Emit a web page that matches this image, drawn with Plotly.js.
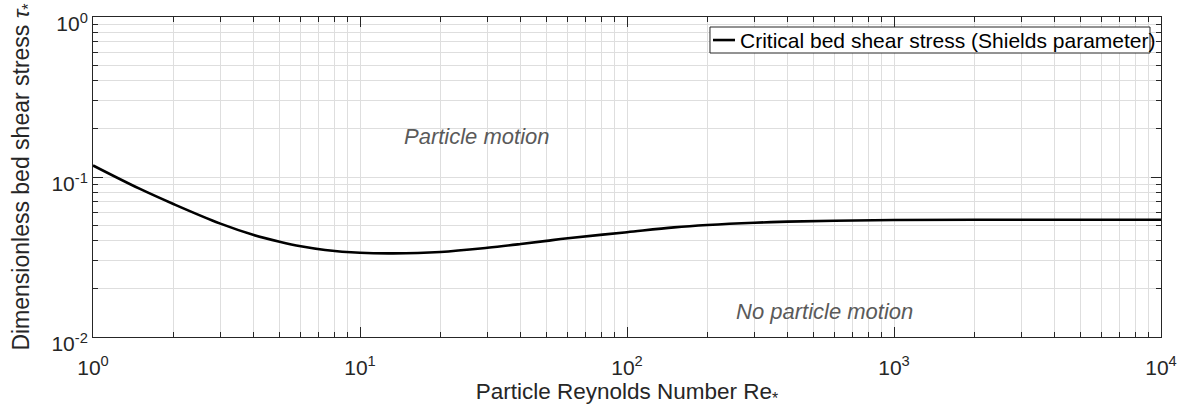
<!DOCTYPE html>
<html>
<head>
<meta charset="utf-8">
<script src="https://cdn.plot.ly/plotly-3.0.1.min.js"></script>
<style>html,body{margin:0;padding:0;background:#fff;}#chart{width:1195px;height:410px;}</style>
</head>
<body>
<div id="chart"></div>
<script>
// Data
var reynolds = [1, 1.5, 2, 3, 4, 5, 6, 7.4, 10, 13.3, 20, 30, 40, 50, 60, 100, 150, 200, 300, 400, 600, 1000, 2000, 5000, 10000];
var shields  = [0.1181, 0.0842, 0.0678, 0.0511, 0.0434, 0.0394, 0.0369, 0.0350, 0.0336, 0.0333, 0.0340, 0.0361, 0.0381, 0.0399, 0.0414, 0.0452, 0.0484, 0.0501, 0.0518, 0.0526, 0.0533, 0.0538, 0.0540, 0.0541, 0.0541];
var seriesName = 'Critical bed shear stress (Shields parameter)';

var xTickVals = [1, 10, 100, 1000, 10000];
var xTickText = ['10<sup>0</sup>', '10<sup>1</sup>', '10<sup>2</sup>', '10<sup>3</sup>', '10<sup>4</sup>'];
var yTickVals = [0.01, 0.1, 1];
var yTickText = ['10<sup>-2</sup>', '10<sup>-1</sup>', '10<sup>0</sup>'];

var regionLabels = ['Particle motion', 'No particle motion'];
var regionX = [27.4, 550];
var regionY = [0.179, 0.0144];

var font = 'Liberation Sans, Arial, Helvetica, sans-serif';
var axisColor = '#262626';
var gridColor = '#dedede';

var trace = {
  x: reynolds, y: shields, type: 'scatter', mode: 'lines',
  name: seriesName, showlegend: false,
  line: {color: '#000000', width: 2.6, shape: 'spline', smoothing: 1}
};

function axisBase(vals, text, range) {
  return {
    type: 'log', range: range, tickmode: 'array', tickvals: vals, ticktext: text,
    ticks: 'inside', ticklen: 10, tickwidth: 1, tickcolor: axisColor,
    showline: true, linecolor: axisColor, linewidth: 1, mirror: 'ticks',
    showgrid: true, gridcolor: gridColor, gridwidth: 1, zeroline: false,
    tickfont: {family: font, size: 21, color: axisColor},
    minor: {dtick: 'D1', ticks: 'inside', ticklen: 5, tickcolor: axisColor, showgrid: true, gridcolor: gridColor, gridwidth: 1}
  };
}

var xaxis = axisBase(xTickVals, xTickText, [0, 4]);
xaxis.ticklabelstandoff = 12;
xaxis.title = {text: 'Particle Reynolds Number Re<sub>*</sub>', font: {family: font, size: 22.5, color: axisColor}, standoff: 2};
var yaxis = axisBase(yTickVals, yTickText, [-2, 0]);
yaxis.ticklabelshift = 7;
yaxis.title = {text: 'Dimensionless bed shear stress <i>τ</i><sub>*</sub>', font: {family: font, size: 23, color: axisColor}, standoff: 15};

// Legend box (MATLAB-style compact legend), placed in paper coordinates
var legendBox = {x0: 0.5777, x1: 0.9897, y0: 0.8875, y1: 0.96875};
var legendLine = {x0: 0.5805, x1: 0.6011, y: 0.928};

var annotations = regionLabels.map(function (t, i) {
  return {x: Math.log10(regionX[i]), y: Math.log10(regionY[i]), xref: 'x', yref: 'y', text: '<i>' + t + '</i>',
    showarrow: false, font: {family: font, size: 22, color: '#5a5a5a'}, xanchor: 'center', yanchor: 'middle'};
});
annotations.push({x: 0.6035, y: legendLine.y, xref: 'paper', yref: 'paper', text: seriesName, showarrow: false,
  xanchor: 'left', yanchor: 'middle', font: {family: font, size: 21, color: '#000000'}});

var shapes = [
  {type: 'rect', xref: 'paper', yref: 'paper', x0: legendBox.x0, x1: legendBox.x1, y0: legendBox.y0, y1: legendBox.y1,
    line: {color: axisColor, width: 1}, fillcolor: '#ffffff', layer: 'above'},
  {type: 'line', xref: 'paper', yref: 'paper', x0: legendLine.x0, x1: legendLine.x1, y0: legendLine.y, y1: legendLine.y,
    line: {color: '#000000', width: 2.6}, layer: 'above'}
];

var layout = {
  width: 1195, height: 410,
  margin: {l: 93, r: 34, t: 17, b: 73, pad: 0},
  paper_bgcolor: '#ffffff', plot_bgcolor: '#ffffff',
  font: {family: font, size: 20, color: axisColor},
  xaxis: xaxis, yaxis: yaxis,
  showlegend: false,
  shapes: shapes,
  annotations: annotations
};

Plotly.newPlot('chart', [trace], layout, {displayModeBar: false, staticPlot: true});
</script>
</body>
</html>
